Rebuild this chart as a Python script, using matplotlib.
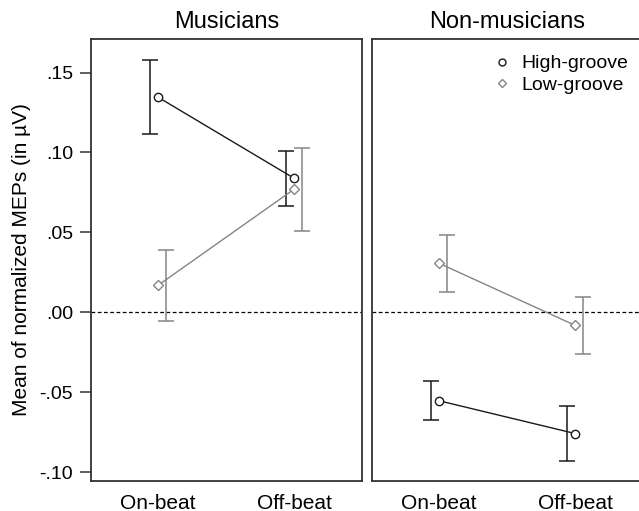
import matplotlib
matplotlib.use("Agg")
import matplotlib.pyplot as plt
from matplotlib.lines import Line2D

plt.rcParams['font.family'] = ['Liberation Sans', 'DejaVu Sans']

conditions = ["On-beat", "Off-beat"]
groups = ["Musicians", "Non-musicians"]

# means and error half-widths
musicians_high = [0.1346, 0.0839]
musicians_high_err = [0.0233, 0.0173]
musicians_low = [0.0169, 0.0770]
musicians_low_err = [0.0222, 0.0260]

nonmus_high = [-0.0553, -0.0758]
nonmus_high_err = [0.0122, 0.0172]
nonmus_low = [0.0307, -0.0081]
nonmus_low_err = [0.0180, 0.0180]

yticks = [-0.10, -0.05, 0.00, 0.05, 0.10, 0.15]
ytick_labels = ["-.10", "-.05", ".00", ".05", ".10", ".15"]

high_color = "#1a1a1a"
low_color = "#858585"
spine_color = "#333333"

fig = plt.figure(figsize=(6.39, 5.11), dpi=100)
ax1 = fig.add_axes([91 / 639, 1 - 481 / 511, 271 / 639, 442 / 511])
ax2 = fig.add_axes([372 / 639, 1 - 481 / 511, 271 / 639, 442 / 511])

panels = [
    (ax1, musicians_high, musicians_high_err, musicians_low, musicians_low_err),
    (ax2, nonmus_high, nonmus_high_err, nonmus_low, nonmus_low_err),
]

x = [0, 1]
off = 0.06
for ax, hi, hi_err, lo, lo_err in panels:
    ax.axhline(0, color="black", linestyle=(0, (3, 2)), linewidth=0.9, zorder=1)
    ax.errorbar([v - off for v in x], hi, yerr=hi_err, fmt="none",
                ecolor=high_color, elinewidth=1.1, capsize=5.8, capthick=1.1, zorder=2)
    ax.errorbar([v + off for v in x], lo, yerr=lo_err, fmt="none",
                ecolor=low_color, elinewidth=1.1, capsize=5.8, capthick=1.1, zorder=2)
    ax.plot(x, hi, color=high_color, linewidth=1.0, marker="o", markersize=6,
            markerfacecolor="white", markeredgecolor=high_color, markeredgewidth=1.0, zorder=3)
    ax.plot(x, lo, color=low_color, linewidth=1.0, marker="D", markersize=5.2,
            markerfacecolor="white", markeredgecolor=low_color, markeredgewidth=1.0, zorder=3)

    ax.set_xlim(-0.493, 1.5)
    ax.set_ylim(-0.1055, 0.171)
    ax.set_xticks(x)
    ax.set_xticklabels(conditions, fontsize=15)
    ax.tick_params(axis="x", length=0, pad=9)
    for s in ax.spines.values():
        s.set_color(spine_color)
        s.set_linewidth(1.3)

ax1.set_yticks(yticks)
ax1.set_yticklabels(ytick_labels, fontsize=14)
ax1.tick_params(axis="y", length=8, width=1.1, color=spine_color, pad=5)
ax1.set_ylabel("Mean of normalized MEPs (in µV)", fontsize=15, labelpad=6)

ax2.set_yticks([])
ax2.spines["right"].set_visible(False)

ax1.set_title(groups[0], fontsize=17, pad=8)
ax2.set_title(groups[1], fontsize=17, pad=8)

handles = [
    Line2D([], [], linestyle="none", marker="o", markersize=5, markerfacecolor="white",
           markeredgecolor=high_color, markeredgewidth=1.0),
    Line2D([], [], linestyle="none", marker="D", markersize=4.5, markerfacecolor="white",
           markeredgecolor=low_color, markeredgewidth=1.0),
]
ax2.legend(handles, ["High-groove", "Low-groove"], loc="upper right",
           bbox_to_anchor=(0.995, 0.995), frameon=False, fontsize=14,
           handlelength=1.0, handletextpad=0.5, labelspacing=0.2, borderaxespad=0.3)

fig.savefig("out.png", dpi=100)
